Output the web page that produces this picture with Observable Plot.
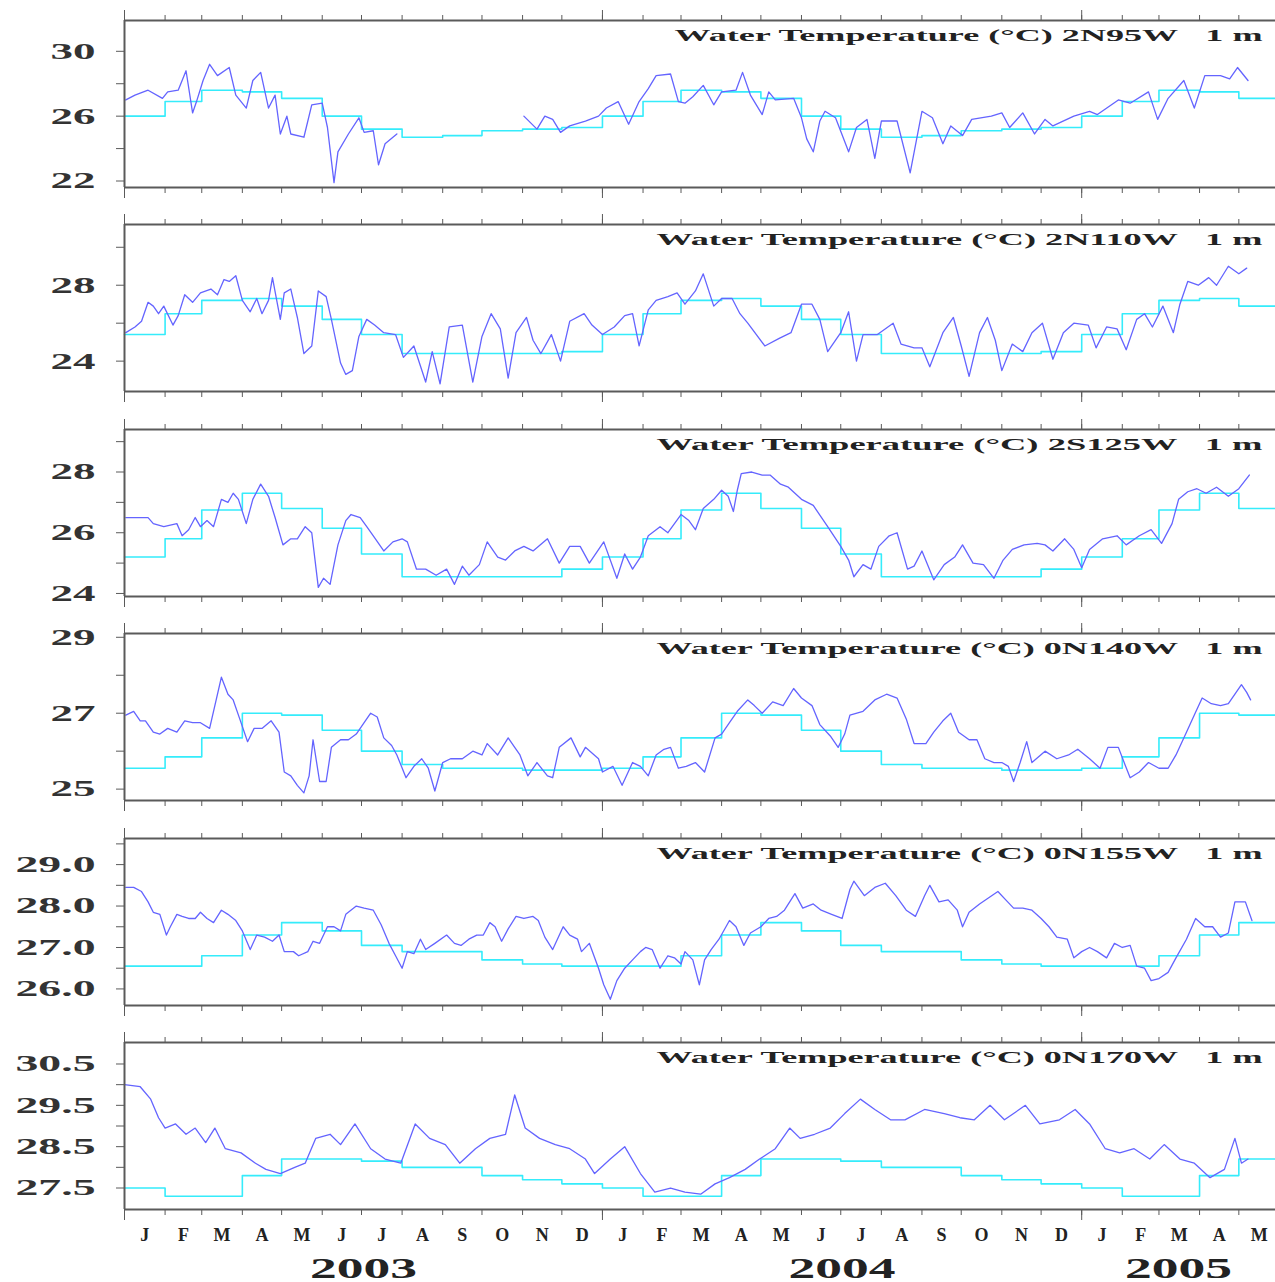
<!DOCTYPE html>
<html><head><meta charset="utf-8">
<script src="https://cdn.jsdelivr.net/npm/d3@7"></script>
<script src="https://cdn.jsdelivr.net/npm/@observablehq/plot@0.6"></script>
<style>
html,body{margin:0;padding:0;background:#fff;overflow:hidden;}
#chart{position:relative;width:1275px;height:1282px;background:#fff;}
#chart svg{position:absolute;left:0;}
</style></head><body><div id="chart"></div>
<script>
// ---- labels ----
const stations = ["2N95W","2N110W","2S125W","0N140W","0N155W","0N170W"];
const monthLetters = ["J","F","M","A","M","J","J","A","S","O","N","D"];
const yearLabels = ["2003","2004","2005"];

// ---- observed 1 m temperature: [day since 2003-01-01, °C] ----
const t2N95W = [[1,27.0],[8,27.3],[18,27.6],[29,27.1],[33,27.5],[41,27.6],[47,28.8],[52,26.2],[55,26.9],[60,28.2],[65,29.2],[71,28.5],[80,29.0],[85,27.3],[93,26.5],[98,28.2],[104,28.7],[110,26.5],[115,27.3],[119,24.9],[124,26.0],[127,24.9],[137,24.7],[143,26.7],[151,26.8],[155,25.3],[160,21.9],[163,23.8],[171,24.9],[179,25.9],[183,25.0],[190,25.1],[194,23.0],[199,24.3],[208,24.9],[250,null],[305,26.0],[315,25.2],[321,26.0],[327,25.8],[333,25.0],[340,25.4],[352,25.7],[362,26.0],[368,26.5],[377,26.9],[385,25.5],[393,26.9],[400,27.7],[406,28.5],[417,28.6],[423,26.9],[428,26.8],[434,27.2],[442,27.9],[450,26.7],[456,27.5],[467,27.6],[472,28.7],[478,27.3],[487,26.1],[492,27.5],[497,27.0],[511,27.1],[517,25.9],[521,24.6],[526,23.8],[531,25.7],[535,26.3],[543,25.9],[553,23.8],[559,25.3],[567,25.8],[573,23.4],[578,25.7],[590,25.7],[600,22.5],[609,26.3],[617,25.9],[625,24.3],[631,25.4],[640,24.8],[647,25.8],[662,26.0],[670,26.2],[676,25.3],[686,26.2],[695,24.9],[703,25.8],[709,25.4],[725,26.0],[737,26.3],[743,26.1],[759,27.0],[768,26.8],[782,27.5],[789,25.8],[797,27.1],[809,28.2],[817,26.5],[825,28.5],[837,28.5],[844,28.3],[850,29.0],[858,28.2]];
const t2N110W = [[1,25.5],[8,25.8],[13,26.1],[18,27.1],[22,26.9],[26,26.5],[30,26.9],[37,25.9],[41,26.4],[46,27.5],[52,27.1],[58,27.6],[66,27.8],[71,27.5],[76,28.3],[80,28.2],[85,28.5],[90,27.2],[96,26.6],[101,27.3],[105,26.5],[110,27.2],[113,28.4],[116,27.3],[119,26.2],[122,27.6],[127,27.8],[132,26.3],[137,24.4],[143,24.8],[148,27.7],[154,27.4],[158,26.2],[165,23.9],[169,23.3],[174,23.5],[179,25.3],[185,26.2],[191,25.9],[198,25.5],[207,25.4],[213,24.2],[221,24.8],[230,22.9],[235,24.5],[241,22.8],[248,25.8],[258,25.9],[266,22.9],[273,25.3],[280,26.5],[287,25.7],[293,23.1],[299,25.5],[307,26.3],[312,25.1],[318,24.4],[326,25.4],[333,24.0],[340,26.1],[351,26.5],[357,25.9],[365,25.4],[374,25.8],[382,26.4],[388,26.5],[393,24.8],[400,26.7],[406,27.2],[415,27.4],[422,27.6],[428,27.0],[436,27.7],[442,28.6],[450,26.9],[456,27.3],[464,27.3],[470,26.5],[476,26.0],[489,24.8],[500,25.2],[509,25.5],[517,27.0],[525,27.0],[531,26.2],[537,24.5],[547,25.5],[553,26.6],[559,24.0],[564,25.4],[575,25.4],[587,26.0],[593,24.9],[603,24.7],[609,24.7],[615,23.7],[625,25.5],[633,26.3],[639,24.8],[645,23.2],[653,25.5],[659,26.3],[665,25.1],[670,23.5],[678,24.9],[686,24.5],[693,25.5],[701,26.0],[709,24.1],[717,25.5],[725,26.0],[736,25.9],[742,24.7],[750,25.8],[758,25.7],[765,24.6],[773,26.2],[779,26.5],[785,25.8],[793,26.9],[801,25.5],[806,27.0],[812,28.2],[820,28.0],[828,28.4],[834,28.0],[843,29.0],[851,28.6],[857,28.9]];
const t2S125W = [[1,26.5],[18,26.5],[22,26.3],[30,26.2],[40,26.3],[44,25.9],[49,26.1],[54,26.5],[58,26.2],[63,26.4],[68,26.2],[74,27.1],[79,27.0],[83,27.3],[87,27.1],[93,26.3],[98,27.1],[104,27.6],[110,27.2],[115,26.5],[121,25.6],[127,25.8],[132,25.8],[138,26.2],[143,26.0],[148,24.2],[152,24.5],[157,24.3],[163,25.6],[169,26.4],[173,26.6],[180,26.5],[185,26.2],[190,25.9],[198,25.4],[205,25.7],[212,25.8],[216,25.7],[223,24.8],[230,24.8],[238,24.6],[246,24.8],[252,24.3],[258,24.9],[263,24.6],[271,24.95],[277,25.7],[285,25.2],[291,25.1],[298,25.4],[305,25.55],[312,25.4],[323,25.8],[332,25.0],[340,25.55],[348,25.55],[355,25.0],[366,25.7],[376,24.5],[382,25.3],[388,24.8],[394,25.2],[400,25.9],[409,26.2],[415,26.0],[420,26.3],[425,26.6],[431,26.4],[436,26.1],[442,26.8],[450,27.1],[456,27.4],[461,27.2],[465,26.7],[468,27.4],[471,27.95],[479,28.0],[487,27.9],[493,27.9],[501,27.6],[507,27.5],[517,27.1],[526,26.9],[537,26.2],[547,25.55],[553,25.1],[557,24.55],[564,24.95],[570,24.8],[576,25.55],[584,25.9],[590,26.0],[598,24.8],[603,24.9],[609,25.4],[618,24.45],[626,24.95],[634,25.2],[640,25.6],[648,25.0],[656,24.95],[664,24.5],[671,25.1],[678,25.45],[687,25.6],[697,25.65],[703,25.6],[709,25.4],[718,25.8],[725,25.45],[731,24.85],[737,25.45],[747,25.8],[758,25.9],[765,25.6],[775,25.9],[784,26.1],[792,25.65],[800,26.3],[805,27.1],[812,27.35],[819,27.45],[826,27.3],[834,27.5],[843,27.2],[851,27.45],[859,27.9]];
const t0N140W = [[1,26.95],[7,27.05],[12,26.8],[16,26.8],[22,26.5],[27,26.45],[33,26.6],[40,26.5],[46,26.8],[52,26.75],[58,26.75],[65,26.6],[69,27.2],[74,27.95],[79,27.5],[83,27.35],[88,26.85],[94,26.25],[99,26.6],[105,26.6],[112,26.8],[118,26.5],[122,25.45],[127,25.35],[132,25.1],[137,24.9],[141,25.35],[144,26.3],[149,25.2],[154,25.2],[158,26.1],[165,26.3],[171,26.3],[177,26.45],[183,26.75],[188,27.0],[193,26.9],[198,26.35],[204,26.15],[208,25.9],[215,25.3],[221,25.6],[227,25.8],[232,25.55],[237,24.95],[243,25.7],[249,25.8],[258,25.8],[266,26.0],[273,25.9],[277,26.2],[285,25.9],[293,26.35],[298,26.1],[302,25.9],[308,25.35],[315,25.7],[323,25.35],[327,25.3],[332,26.1],[341,26.35],[348,25.85],[352,26.1],[362,25.8],[365,25.45],[373,25.6],[380,25.1],[388,25.7],[394,25.6],[400,25.35],[406,25.9],[412,26.05],[417,26.1],[423,25.55],[429,25.6],[436,25.7],[443,25.45],[451,26.35],[456,26.45],[462,26.75],[468,27.05],[476,27.35],[481,27.2],[487,27.0],[495,27.3],[503,27.2],[511,27.65],[517,27.4],[525,27.2],[531,26.7],[539,26.4],[545,26.1],[550,26.45],[554,26.95],[564,27.05],[573,27.35],[582,27.5],[590,27.4],[597,26.85],[603,26.2],[612,26.2],[618,26.5],[625,26.8],[631,27.0],[637,26.5],[645,26.3],[651,26.3],[657,25.8],[664,25.7],[670,25.7],[675,25.6],[679,25.2],[684,25.7],[689,26.25],[693,25.7],[703,26.0],[712,25.8],[721,25.9],[728,26.05],[737,25.8],[745,25.55],[751,26.1],[759,26.1],[764,25.65],[768,25.3],[775,25.45],[782,25.7],[790,25.55],[797,25.55],[803,25.9],[811,26.5],[817,26.95],[823,27.4],[830,27.25],[837,27.2],[843,27.25],[853,27.75],[857,27.55],[860,27.35]];
const t0N155W = [[1,28.45],[7,28.45],[13,28.35],[18,28.1],[22,27.85],[27,27.8],[32,27.3],[35,27.5],[40,27.8],[44,27.75],[49,27.7],[54,27.7],[58,27.85],[63,27.7],[68,27.6],[74,27.9],[79,27.8],[85,27.65],[90,27.4],[96,26.95],[101,27.3],[107,27.25],[113,27.15],[118,27.3],[122,26.9],[129,26.9],[133,26.8],[140,26.9],[144,27.15],[149,27.1],[155,27.5],[160,27.5],[165,27.4],[169,27.8],[177,28.0],[183,27.95],[190,27.9],[196,27.55],[202,27.1],[207,26.8],[212,26.5],[216,26.9],[221,26.85],[226,27.2],[230,26.95],[237,27.1],[246,27.3],[252,27.1],[257,27.05],[263,27.2],[269,27.3],[274,27.3],[279,27.6],[283,27.5],[288,27.15],[293,27.45],[299,27.75],[305,27.7],[312,27.75],[316,27.65],[321,27.25],[327,26.95],[335,27.5],[340,27.3],[346,27.2],[349,26.9],[355,27.1],[362,26.5],[366,26.1],[371,25.75],[376,26.2],[382,26.5],[388,26.7],[394,26.9],[398,27.0],[403,26.95],[409,26.5],[415,26.8],[420,26.75],[425,26.6],[428,26.9],[434,26.7],[439,26.1],[443,26.7],[448,26.95],[454,27.2],[462,27.65],[467,27.5],[473,27.05],[478,27.35],[486,27.5],[492,27.7],[498,27.75],[504,27.9],[512,28.3],[518,27.95],[526,28.05],[532,27.9],[540,27.8],[548,27.7],[554,28.4],[557,28.6],[565,28.25],[573,28.45],[581,28.55],[589,28.25],[597,27.9],[604,27.75],[611,28.25],[615,28.5],[622,28.1],[629,28.15],[636,27.9],[640,27.5],[645,27.85],[653,28.05],[660,28.2],[667,28.35],[673,28.15],[679,27.95],[686,27.95],[693,27.9],[700,27.7],[706,27.5],[712,27.25],[720,27.2],[725,26.75],[731,26.9],[737,27.0],[743,26.9],[750,26.75],[756,27.1],[762,27.0],[768,27.05],[773,26.55],[779,26.5],[784,26.2],[790,26.25],[797,26.4],[803,26.75],[811,27.2],[818,27.7],[825,27.5],[831,27.5],[837,27.25],[843,27.35],[848,28.1],[856,28.1],[861,27.65]];
const t0N170W = [[0,30.0],[12,29.95],[20,29.65],[26,29.2],[31,28.95],[39,29.05],[47,28.8],[54,28.95],[62,28.6],[69,28.95],[77,28.45],[89,28.35],[100,28.1],[108,27.95],[119,27.85],[130,28.0],[138,28.1],[146,28.7],[157,28.8],[165,28.55],[176,29.05],[188,28.45],[199,28.2],[211,28.1],[222,29.05],[233,28.7],[245,28.55],[256,28.1],[268,28.45],[279,28.7],[291,28.8],[298,29.75],[306,28.95],[317,28.7],[329,28.55],[340,28.45],[352,28.2],[359,27.85],[371,28.2],[382,28.5],[394,27.85],[405,27.4],[417,27.5],[428,27.4],[440,27.35],[451,27.6],[462,27.75],[474,27.95],[485,28.2],[497,28.45],[508,28.95],[516,28.7],[527,28.8],[539,28.95],[550,29.3],[562,29.65],[573,29.4],[585,29.15],[596,29.15],[611,29.4],[626,29.3],[638,29.2],[649,29.15],[661,29.5],[672,29.15],[688,29.5],[699,29.05],[714,29.15],[726,29.4],[737,29.05],[749,28.45],[760,28.35],[771,28.45],[783,28.2],[794,28.55],[806,28.2],[817,28.1],[829,27.75],[840,27.95],[848,28.7],[853,28.1],[858,28.2]];

// ---- monthly climatology (Jan..Dec), °C ----
const c2N95W  = [26.0, 26.9, 27.6, 27.5, 27.1, 26.0, 25.2, 24.7, 24.8, 25.1, 25.2, 25.3];
const c2N110W = [25.4, 26.5, 27.2, 27.3, 26.9, 26.2, 25.4, 24.4, 24.4, 24.4, 24.4, 24.5];
const c2S125W = [25.2, 25.8, 26.75, 27.3, 26.8, 26.15, 25.3, 24.55, 24.55, 24.55, 24.55, 24.8];
const c0N140W = [25.55, 25.85, 26.35, 27.0, 26.95, 26.55, 26.0, 25.65, 25.55, 25.55, 25.5, 25.5];
const c0N155W = [26.55, 26.55, 26.8, 27.3, 27.6, 27.4, 27.05, 26.9, 26.9, 26.7, 26.6, 26.55];
const c0N170W = [27.5, 27.3, 27.3, 27.8, 28.2, 28.2, 28.15, 28.0, 28.0, 27.8, 27.7, 27.6];

// ---- y-axis ticks per panel ----
const yTicks = [
  [22,24,26,28,30], [24,26,28,30], [24,25,26,27,28,29], [25,26,27,28,29],
  [26,26.5,27,27.5,28,28.5,29,29.5], [27.5,28,28.5,29,29.5,30,30.5]
];
const yLabels = [
  [22,26,30], [24,28], [24,26,28], [25,27,29], [26,27,28,29], [27.5,28.5,29.5,30.5]
];
const yDomains = [[21.6,31.9],[22.4,31.2],[23.9,29.4],[24.7,29.1],[25.6,29.63],[26.98,31.02]];
const labelDigits = [0,0,0,0,1,1];

const series = [t2N95W,t2N110W,t2S125W,t0N140W,t0N155W,t0N170W];
const climos = [c2N95W,c2N110W,c2S125W,c0N140W,c0N155W,c0N170W];

const T0 = Date.UTC(2003,0,1);
const toDate = d => new Date(T0 + d*864e5);
const xDomain = [new Date(Date.UTC(2003,0,1)), new Date(Date.UTC(2005,4,29))];
const monthStarts = d3.utcMonths(xDomain[0], d3.utcDay.offset(xDomain[1],1));
const janTicks = monthStarts.filter(d => d.getUTCMonth() === 0);
const midMonths = monthStarts.map(d => new Date((+d + +d3.utcMonth.offset(d,1))/2));
const yearData = yearLabels.map(y => {
  const a = Math.max(+xDomain[0], Date.UTC(+y,0,1));
  const b = Math.min(+xDomain[1], Date.UTC(+y+1,0,1));
  return {label: y, date: new Date((a+b)/2)};
});

const chart = document.getElementById("chart");
const FONT = "'Liberation Serif','DejaVu Serif',serif";
const AX = "#5a5a5a";

stations.forEach((st, k) => {
  const last = k === stations.length - 1;
  const H = last ? 260 : 205;
  const top = Math.round(k * 204.4);
  const data = series[k].map(([d,v]) => ({date: toDate(d), v}));
  const clim = climos[k];
  const climData = monthStarts.map(d => ({date: d, v: clim[d.getUTCMonth()]}));
  climData.push({date: xDomain[1], v: clim[xDomain[1].getUTCMonth()]});
  const fmt = d3.format("." + labelDigits[k] + "f");
  const title = "Water Temperature (°C) " + st + "\u00a0\u00a0 1 m";

  const marks = [
    Plot.line(climData, {x:"date", y:"v", curve:"step-after", stroke:"#35ecfb", strokeWidth:1.6}),
    Plot.line(data, {x:"date", y:"v", stroke:"#6464ff", strokeWidth:1.3}),
    Plot.ruleY([yDomains[k][1]], {stroke:AX, strokeWidth:2}),
    Plot.ruleY([yDomains[k][0]], {stroke:AX, strokeWidth:2}),
    Plot.ruleX([xDomain[0]], {stroke:AX, strokeWidth:2}),
    Plot.axisX({anchor:"top", ticks: monthStarts, tickSize:6, fill:"none", stroke:AX, label:null}),
    Plot.axisX({anchor:"bottom", ticks: monthStarts, tickSize:6, fill:"none", stroke:AX, label:null}),
    Plot.axisX({anchor:"top", ticks: janTicks, tickSize:11, fill:"none", stroke:AX, label:null}),
    Plot.axisX({anchor:"bottom", ticks: janTicks, tickSize:11, fill:"none", stroke:AX, label:null}),
    Plot.axisY({ticks: yTicks[k], tickSize:8, tickPadding:21, stroke:AX, fill:"#333",
      tickFormat: d => yLabels[k].includes(d) ? fmt(d) : "", fontSize:23, fontWeight:"bold", label:null}),
    Plot.text([title], {text: d => d, frameAnchor:"top-right", dx:-13, dy:15, lineAnchor:"middle",
      fontSize:17, fontWeight:"bold", fill:"#222", textAnchor:"end"})
  ];
  if (last) {
    marks.push(Plot.text(midMonths, {x: d => d, text: d => monthLetters[d.getUTCMonth()],
      frameAnchor:"bottom", dy:26, lineAnchor:"middle", fontSize:18, fontWeight:"bold", fill:"#222"}));
    marks.push(Plot.text(yearData, {x:"date", text:"label", frameAnchor:"bottom", dy:59,
      lineAnchor:"middle", fontSize:29, fontWeight:"bold", fill:"#222"}));
  }
  const svg = Plot.plot({
    width:1275, height:H, marginLeft:124, marginRight:0, marginTop:20, marginBottom:H-187,
    x:{type:"utc", domain:xDomain, label:null},
    y:{domain:yDomains[k], label:null},
    style:{fontFamily:FONT, background:"transparent", color:"#222", overflow:"visible"},
    marks
  });
  svg.style.top = top + "px";
  chart.appendChild(svg);
  const s = d3.select(svg);
  s.selectAll('g[aria-label="y-axis tick label"] text').each(function(){
    const t = this.textContent;
    if (t) { this.setAttribute("textLength", t.length > 2 ? 80 : 45); this.setAttribute("lengthAdjust","spacingAndGlyphs"); }
  });
  s.selectAll('text').each(function(){
    const t = this.textContent;
    if (t.startsWith("Water")) {
      this.setAttribute("textLength", Math.round(17.3 * t.length));
      this.setAttribute("lengthAdjust","spacingAndGlyphs");
    } else if (yearLabels.includes(t)) {
      this.setAttribute("textLength", 107);
      this.setAttribute("lengthAdjust","spacingAndGlyphs");
    }
  });
});
</script></body></html>
